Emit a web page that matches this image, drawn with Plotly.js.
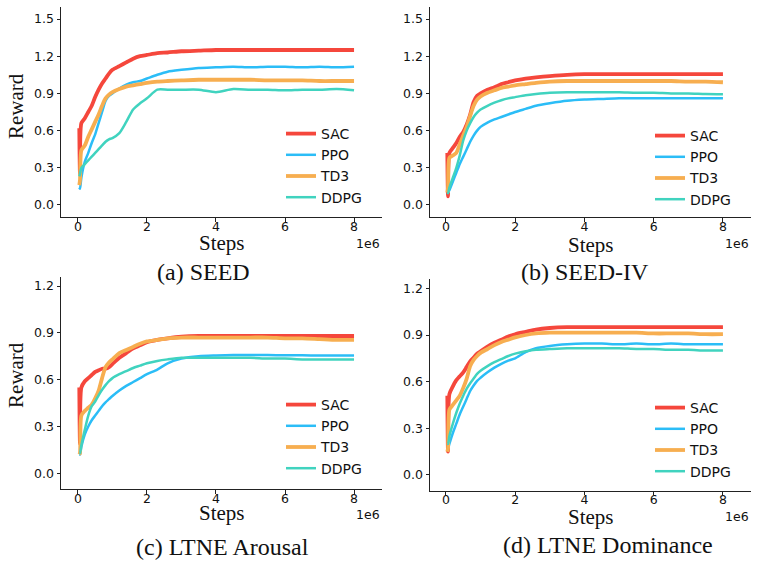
<!DOCTYPE html>
<html>
<head>
<meta charset="utf-8">
<script src="https://cdn.plot.ly/plotly-3.0.1.min.js"></script>
<style>
  html, body { margin: 0; padding: 0; background: #ffffff; }
  #chart { width: 757px; height: 568px; }
</style>
</head>
<body>
<div id="chart"></div>
<script>
// Training steps (x 1e6) at which each reward curve is sampled
const steps = [0.04, 0.06, 0.1, 0.2, 0.3, 0.4, 0.5, 0.6, 0.7, 0.8, 0.9, 1.0, 1.2, 1.4, 1.6, 1.8,
               2.0, 2.3, 2.6, 3.0, 3.5, 4.0, 4.5, 5.0, 5.5, 6.0, 6.5, 7.0, 7.5, 8.0];

const algorithms = ['SAC', 'PPO', 'TD3', 'DDPG'];
const captions = ['(a) SEED', '(b) SEED-IV', '(c) LTNE Arousal', '(d) LTNE Dominance'];
const xTickVals = [0, 2, 4, 6, 8];
const yTicksTop = [0.0, 0.3, 0.6, 0.9, 1.2, 1.5];
const yTicksBottom = [0.0, 0.3, 0.6, 0.9, 1.2];

// (a) SEED
const seedSAC  = [0.62, 0.25, 0.66, 0.70, 0.75, 0.80, 0.87, 0.93, 0.98, 1.02, 1.06, 1.09, 1.12, 1.15, 1.18, 1.20,
                  1.21, 1.225, 1.23, 1.24, 1.245, 1.25, 1.25, 1.25, 1.25, 1.25, 1.25, 1.25, 1.25, 1.25];
const seedPPO  = [0.14, 0.13, 0.22, 0.35, 0.42, 0.50, 0.57, 0.66, 0.75, 0.84, 0.88, 0.90, 0.94, 0.97, 0.99, 1.00,
                  1.02, 1.05, 1.075, 1.09, 1.105, 1.11, 1.115, 1.11, 1.115, 1.115, 1.11, 1.115, 1.11, 1.115];
const seedTD3  = [0.16, 0.20, 0.44, 0.48, 0.55, 0.61, 0.67, 0.73, 0.80, 0.86, 0.89, 0.91, 0.935, 0.955, 0.965, 0.975,
                  0.985, 0.995, 1.0, 1.005, 1.01, 1.01, 1.01, 1.01, 1.005, 1.005, 1.005, 1.0, 1.0, 1.0];
const seedDDPG = [0.23, 0.25, 0.30, 0.33, 0.36, 0.39, 0.42, 0.45, 0.48, 0.51, 0.53, 0.54, 0.58, 0.67, 0.77, 0.82,
                  0.86, 0.93, 0.93, 0.93, 0.93, 0.91, 0.935, 0.93, 0.93, 0.925, 0.93, 0.93, 0.935, 0.925];

// (b) SEED-IV
const seed4SAC  = [0.42, 0.07, 0.42, 0.46, 0.50, 0.55, 0.59, 0.65, 0.73, 0.83, 0.88, 0.90, 0.93, 0.95, 0.975, 0.99,
                   1.005, 1.02, 1.03, 1.04, 1.05, 1.055, 1.055, 1.055, 1.055, 1.055, 1.055, 1.055, 1.055, 1.055];
const seed4PPO  = [0.10, 0.10, 0.12, 0.19, 0.26, 0.33, 0.39, 0.45, 0.51, 0.56, 0.60, 0.63, 0.665, 0.69, 0.71, 0.73,
                   0.75, 0.775, 0.80, 0.82, 0.84, 0.85, 0.855, 0.86, 0.86, 0.86, 0.86, 0.86, 0.86, 0.86];
const seed4TD3  = [0.10, 0.14, 0.38, 0.40, 0.42, 0.49, 0.56, 0.63, 0.72, 0.80, 0.85, 0.875, 0.905, 0.925, 0.945, 0.955,
                   0.965, 0.975, 0.985, 0.995, 1.0, 1.0, 1.0, 1.0, 1.0, 1.0, 1.0, 0.995, 0.995, 0.99];
const seed4DDPG = [0.10, 0.095, 0.14, 0.22, 0.30, 0.40, 0.52, 0.60, 0.66, 0.71, 0.745, 0.77, 0.80, 0.825, 0.845, 0.86,
                   0.87, 0.885, 0.895, 0.905, 0.91, 0.91, 0.91, 0.91, 0.905, 0.905, 0.90, 0.90, 0.895, 0.893];

// (c) LTNE Arousal
const arousalSAC  = [0.55, 0.19, 0.55, 0.59, 0.61, 0.63, 0.65, 0.66, 0.67, 0.67, 0.68, 0.70, 0.74, 0.77, 0.80, 0.82,
                     0.84, 0.855, 0.865, 0.875, 0.88, 0.88, 0.88, 0.88, 0.88, 0.88, 0.88, 0.88, 0.88, 0.88];
const arousalPPO  = [0.12, 0.12, 0.17, 0.25, 0.30, 0.34, 0.37, 0.40, 0.43, 0.455, 0.475, 0.495, 0.53, 0.56, 0.585, 0.61,
                     0.635, 0.665, 0.705, 0.735, 0.75, 0.755, 0.758, 0.758, 0.758, 0.756, 0.756, 0.755, 0.755, 0.755];
const arousalTD3  = [0.12, 0.13, 0.37, 0.40, 0.42, 0.44, 0.48, 0.53, 0.61, 0.68, 0.71, 0.73, 0.77, 0.79, 0.81, 0.83,
                     0.845, 0.855, 0.865, 0.87, 0.87, 0.87, 0.87, 0.87, 0.87, 0.865, 0.865, 0.86, 0.855, 0.855];
const arousalDDPG = [0.13, 0.13, 0.18, 0.28, 0.37, 0.43, 0.46, 0.50, 0.535, 0.565, 0.59, 0.61, 0.635, 0.655, 0.675, 0.69,
                     0.705, 0.72, 0.73, 0.74, 0.74, 0.74, 0.74, 0.74, 0.735, 0.735, 0.73, 0.73, 0.73, 0.73];

// (d) LTNE Dominance
const dominanceSAC  = [0.51, 0.15, 0.52, 0.57, 0.61, 0.635, 0.66, 0.695, 0.73, 0.755, 0.78, 0.795, 0.825, 0.85, 0.87, 0.89,
                       0.905, 0.92, 0.935, 0.945, 0.95, 0.95, 0.95, 0.95, 0.95, 0.95, 0.95, 0.95, 0.95, 0.95];
const dominancePPO  = [0.17, 0.17, 0.20, 0.27, 0.33, 0.39, 0.44, 0.49, 0.54, 0.575, 0.605, 0.625, 0.66, 0.69, 0.715, 0.735,
                       0.75, 0.79, 0.815, 0.83, 0.84, 0.845, 0.845, 0.84, 0.845, 0.84, 0.845, 0.84, 0.84, 0.84];
const dominanceTD3  = [0.15, 0.17, 0.42, 0.45, 0.48, 0.51, 0.56, 0.62, 0.70, 0.74, 0.765, 0.785, 0.81, 0.835, 0.855, 0.87,
                       0.885, 0.90, 0.91, 0.915, 0.915, 0.915, 0.915, 0.915, 0.915, 0.91, 0.91, 0.91, 0.905, 0.905];
const dominanceDDPG = [0.20, 0.20, 0.25, 0.33, 0.40, 0.46, 0.51, 0.555, 0.59, 0.62, 0.65, 0.67, 0.70, 0.725, 0.745, 0.765,
                       0.78, 0.795, 0.805, 0.81, 0.815, 0.815, 0.815, 0.815, 0.81, 0.81, 0.805, 0.805, 0.80, 0.80];

const panels = [
  { series: [seedSAC, seedPPO, seedTD3, seedDDPG] },
  { series: [seed4SAC, seed4PPO, seed4TD3, seed4DDPG] },
  { series: [arousalSAC, arousalPPO, arousalTD3, arousalDDPG] },
  { series: [dominanceSAC, dominancePPO, dominanceTD3, dominanceDDPG] }
];

const colors = { SAC: '#f5473c', PPO: '#2bbdf7', TD3: '#f7ae50', DDPG: '#40d3bf' };
const widths = { SAC: 3.8, PPO: 2.5, TD3: 3.8, DDPG: 2.5 };

const W = 757, H = 568;
const px = v => v / W;
const py = v => 1 - v / H;

// plot frames in pixels: left, right, top, bottom
const frames = [
  { l: 61,  r: 382, t: 7,     b: 217,   xr: [-0.49, 8.81], yr: [-0.097, 1.597], yt: yTicksTop },
  { l: 430, r: 751, t: 7,     b: 217,   xr: [-0.46, 8.81], yr: [-0.097, 1.597], yt: yTicksTop },
  { l: 61,  r: 382, t: 277.3, b: 489,   xr: [-0.49, 8.81], yr: [-0.1006, 1.256], yt: yTicksBottom },
  { l: 430, r: 751, t: 279,   b: 490.7, xr: [-0.46, 8.81], yr: [-0.101, 1.26],  yt: yTicksBottom }
];

const tickFont = { family: 'DejaVu Sans', size: 12.5, color: '#111111' };
const serif = 'Liberation Serif, Times New Roman, serif';

const traces = [];
const layout = {
  width: W, height: H,
  margin: { l: 0, r: 0, t: 0, b: 0 },
  paper_bgcolor: '#ffffff',
  plot_bgcolor: '#ffffff',
  showlegend: true,
  annotations: [],
  font: { family: 'DejaVu Sans' }
};

const legendSpots = [
  { x: 281, y: 118 }, { x: 650, y: 120 }, { x: 281, y: 389 }, { x: 650, y: 392 }
];
const stepsTitleY = [243, 245, 513, 517];
const offsetTextY = [243, 243, 514, 516];
const captionY = [272, 272, 547, 545];
const captionX = [203, 585, 222, 608];

panels.forEach((panel, i) => {
  const n = i + 1;
  const xa = n === 1 ? 'x' : 'x' + n;
  const ya = n === 1 ? 'y' : 'y' + n;
  const lg = n === 1 ? 'legend' : 'legend' + n;
  const f = frames[i];

  panel.series.forEach((vals, k) => {
    const name = algorithms[k];
    traces.push({
      type: 'scatter', mode: 'lines',
      x: steps, y: vals, name: name,
      xaxis: xa, yaxis: ya, legend: lg,
      line: { color: colors[name], width: widths[name], shape: 'spline', smoothing: 0.7 },
      hoverinfo: 'skip'
    });
  });

  layout[n === 1 ? 'xaxis' : 'xaxis' + n] = {
    domain: [px(f.l), px(f.r)], anchor: ya,
    range: f.xr, tickvals: xTickVals, ticktext: xTickVals.map(String),
    showline: true, linecolor: '#222222', linewidth: 1,
    ticks: 'outside', ticklen: 3.5, tickwidth: 1, tickcolor: '#222222',
    ticklabelstandoff: -6,
    showgrid: false, zeroline: false, tickfont: tickFont, fixedrange: true
  };
  layout[n === 1 ? 'yaxis' : 'yaxis' + n] = {
    domain: [py(f.b), py(f.t)], anchor: xa,
    range: f.yr, tickvals: f.yt, ticktext: f.yt.map(v => v.toFixed(1)),
    showline: true, linecolor: '#222222', linewidth: 1,
    ticks: 'outside', ticklen: 3.5, tickwidth: 1, tickcolor: '#222222',
    showgrid: false, zeroline: false, tickfont: tickFont, fixedrange: true
  };

  layout[lg] = {
    x: px(legendSpots[i].x), y: py(legendSpots[i].y),
    xanchor: 'left', yanchor: 'top',
    bgcolor: 'rgba(0,0,0,0)', borderwidth: 0,
    font: { family: 'DejaVu Sans', size: 14, color: '#111111' },
    itemclick: false, itemdoubleclick: false
  };

  // x-axis title
  layout.annotations.push({
    xref: 'paper', yref: 'paper',
    x: px((f.l + f.r) / 2), y: py(stepsTitleY[i]),
    xanchor: 'center', yanchor: 'middle', showarrow: false,
    text: 'Steps', font: { family: serif, size: 21, color: '#111111' }
  });
  // scale factor of the step axis
  layout.annotations.push({
    xref: 'paper', yref: 'paper',
    x: px(f.r), y: py(offsetTextY[i]),
    xanchor: 'right', yanchor: 'middle', showarrow: false,
    text: '1e6', font: tickFont
  });
  // panel caption
  layout.annotations.push({
    xref: 'paper', yref: 'paper',
    x: px(captionX[i]), y: py(captionY[i]),
    xanchor: 'center', yanchor: 'middle', showarrow: false,
    text: captions[i], font: { family: serif, size: 24, color: '#111111' }
  });
  // y-axis title on the left column only
  if (i === 0 || i === 2) {
    layout.annotations.push({
      xref: 'paper', yref: 'paper',
      x: px(16), y: py(i === 0 ? 106 : 375),
      xanchor: 'center', yanchor: 'middle', showarrow: false, textangle: -90,
      text: 'Reward', font: { family: serif, size: 21, color: '#111111' }
    });
  }
});

Plotly.newPlot('chart', traces, layout, { displayModeBar: false, staticPlot: true });
</script>
</body>
</html>
